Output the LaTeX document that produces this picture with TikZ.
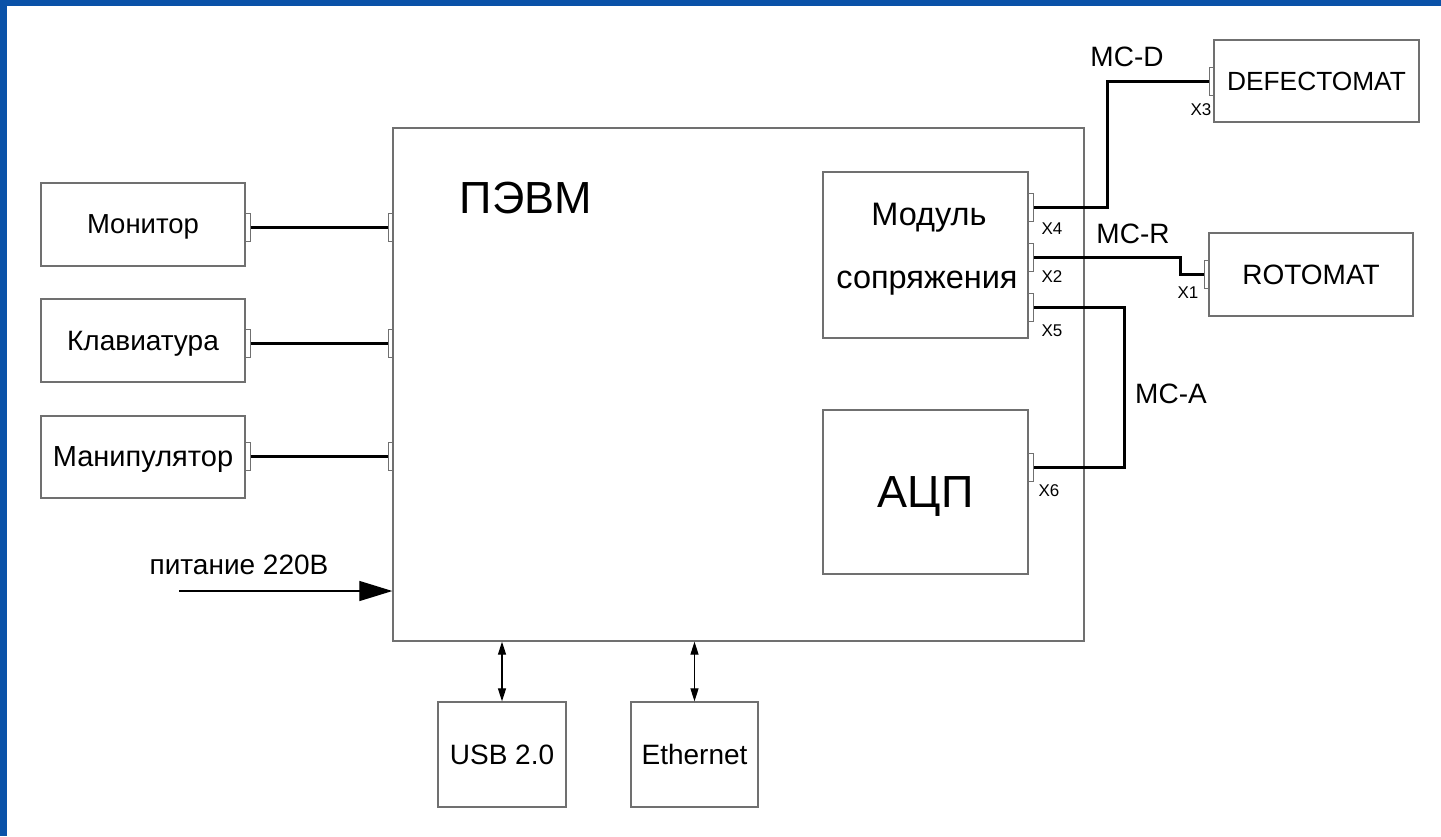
\documentclass[tikz,border=0pt]{standalone}
\usepackage{fontspec}
\setmainfont{Liberation Sans}
\usetikzlibrary{arrows.meta}
\definecolor{slideblue}{HTML}{0A52A8}
\definecolor{boxgray}{HTML}{707070}
\begin{document}
\begin{tikzpicture}[x=1pt,y=-1pt,
  box/.style={draw=boxgray, line width=1.3pt, rectangle, inner sep=0pt, text depth=0pt, align=center},
  port/.style={draw=boxgray, line width=1pt, rectangle, inner sep=0pt, minimum width=5pt, minimum height=28pt},
  wire/.style={line width=3pt, black},
  lbl/.style={inner sep=0pt, anchor=base},
  fmid/.style={font=\fontsize{28}{32}\selectfont},
  fbig/.style={font=\fontsize{28}{32}\selectfont},
  fmod/.style={font=\fontsize{32.5}{36}\selectfont},
  fhuge/.style={font=\fontsize{45}{50}\selectfont},
  fsmall/.style={font=\fontsize{17}{19}\selectfont},
  thinarrow/.style={line width=1.2pt, black}
]
\useasboundingbox (0,0) rectangle (1441,836);
\fill[slideblue] (0,0) rectangle (1441,836);
\fill[white] (7,6) rectangle (1441,836);

% main box
\node[box, minimum width=691pt, minimum height=513pt] (pc) at (738.5,384.5) {};
\node[lbl, fhuge] (pctext) at (526,213) {ПЭВМ};

% peripherals
\node[box, font=\fontsize{27.5}{32}\selectfont, minimum width=204pt, minimum height=83pt] (mon) at (143,224.5) {Монитор};
\node[box, fmid, minimum width=204pt, minimum height=83pt] (kbd) at (143,340.5) {Клавиатура};
\node[box, font=\fontsize{29}{32}\selectfont, minimum width=204pt, minimum height=82pt] (man) at (143,457) {Манипулятор};

\node[port] (monp) at (247.5,227) {};
\node[port] (kbdp) at (247.5,343) {};
\node[port] (manp) at (247.5,456) {};
\node[port] (pcp1) at (390.5,227) {};
\node[port] (pcp2) at (390.5,343) {};
\node[port] (pcp3) at (390.5,456) {};

\draw[wire] (monp.east) -- (pcp1.west);
\draw[wire] (kbdp.east) -- (pcp2.west);
\draw[wire] (manp.east) -- (pcp3.west);

% interface module
\node[box, minimum width=205pt, minimum height=166pt] (mod) at (925.5,255) {};
\node[lbl, fmod] (modt1) at (929,225) {Модуль};
\node[lbl, fmod] (modt2) at (927,288) {сопряжения};
\node[port] (x4) at (1030.5,207.5) {};
\node[port] (x2) at (1030.5,257.5) {};
\node[port] (x5) at (1030.5,307.5) {};
\node[lbl, fsmall] (x4l) at (1052,234) {X4};
\node[lbl, fsmall] (x2l) at (1052,282) {X2};
\node[lbl, fsmall] (x5l) at (1052,336) {X5};

% ADC
\node[box, font=\fontsize{45}{50}\selectfont, minimum width=205pt, minimum height=164pt] (adc) at (925.5,492) {АЦП};
\node[port] (x6) at (1030.5,467.5) {};
\node[lbl, fsmall] (x6l) at (1049,496) {X6};

% external devices
\node[box, font=\fontsize{26.3}{30}\selectfont, minimum width=205pt, minimum height=82pt] (def) at (1316.5,81) {DEFECTOMAT};
\node[port] (x3) at (1211.5,81) {};
\node[lbl, fsmall] (x3l) at (1201,115) {X3};

\node[box, fbig, minimum width=204pt, minimum height=83pt] (rot) at (1311,274.5) {ROTOMAT};
\node[port] (x1) at (1206.5,274.5) {};
\node[lbl, fsmall] (x1l) at (1188,298) {X1};

% cables
\draw[wire] (x4.east) -- ++(74,0) |- (x3.west);
\draw[wire] (x2.east) -- ++(147,0) |- (x1.west);
\draw[wire] (x5.east) -- ++(91,0) |- (x6.east);
\node[lbl, fbig] (mcd) at (1127,66) {MC-D};
\node[lbl, fbig] (mcr) at (1133,243) {MC-R};
\node[lbl, fbig] (mca) at (1171,403) {MC-A};

% power
\node[lbl, font=\fontsize{28}{32}\selectfont] (pwr) at (239,574) {питание 220В};
\coordinate (pwin) at (179,591);
\draw[thinarrow, -{Triangle[length=33pt,width=20pt]}] (pwin) -- (pc.west |- pwin);

% bottom devices
\node[box, fbig, minimum width=128pt, minimum height=105pt] (usb) at (502,754.5) {USB 2.0};
\node[box, fbig, minimum width=127pt, minimum height=105pt] (eth) at (694.5,754.5) {Ethernet};
\draw[thinarrow, {Triangle[length=13pt,width=8pt]}-{Triangle[length=13pt,width=8pt]}] (usb.north) -- (usb.north |- pc.south);
\draw[thinarrow, {Triangle[length=13pt,width=8pt]}-{Triangle[length=13pt,width=8pt]}] (eth.north) -- (eth.north |- pc.south);
\end{tikzpicture}
\end{document}
